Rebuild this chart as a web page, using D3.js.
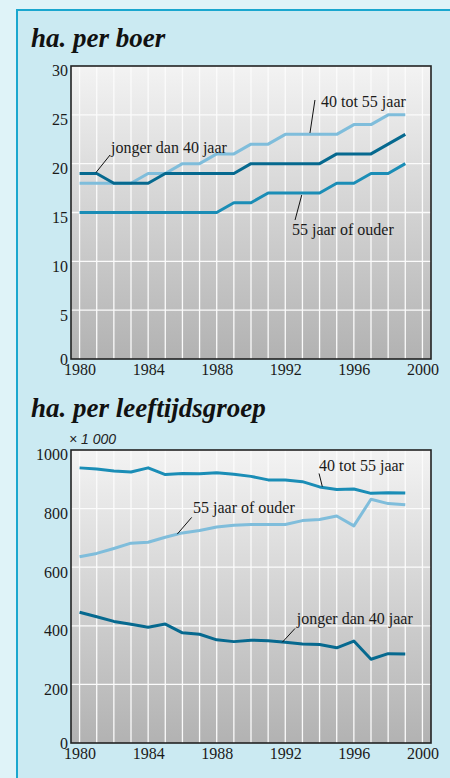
<!DOCTYPE html>
<html>
<head>
<meta charset="utf-8">
<script src="https://cdn.jsdelivr.net/npm/d3@7"></script>
<style>
  html, body { margin: 0; padding: 0; background: #dff3f8; }
  svg text { font-family: "Liberation Serif", "DejaVu Serif", serif; }
  svg text.eenheid { font-family: "Liberation Sans", "DejaVu Sans", sans-serif; }
</style>
</head>
<body>
<div id="grafiek"></div>
<script>
// jaren
const jaren = d3.range(1980, 2000);
const jaarTicks = [1980, 1984, 1988, 1992, 1996, 2000];

// ha. per boer
const boerJonger = [19, 19, 18, 18, 18, 19, 19, 19, 19, 19, 20, 20, 20, 20, 20, 21, 21, 21, 22, 23];
const boerMidden = [18, 18, 18, 18, 19, 19, 20, 20, 21, 21, 22, 22, 23, 23, 23, 23, 24, 24, 25, 25];
const boerOuder = [15, 15, 15, 15, 15, 15, 15, 15, 15, 16, 16, 17, 17, 17, 17, 18, 18, 19, 19, 20];
const boerTicks = [0, 5, 10, 15, 20, 25, 30];

// ha. per leeftijdsgroep (x 1000)
const groepJonger = [446, 431, 415, 405, 395, 406, 376, 371, 352, 346, 351, 349, 344, 338, 336, 325, 348, 286, 305, 304];
const groepMidden = [939, 935, 928, 925, 939, 916, 920, 919, 922, 917, 910, 898, 898, 892, 874, 865, 867, 852, 854, 853];
const groepOuder = [636, 647, 664, 682, 685, 702, 717, 725, 737, 743, 746, 746, 746, 759, 763, 775, 741, 832, 817, 813];
const groepTicks = [0, 200, 400, 600, 800, 1000];

const donker = "#06698f";
const middel = "#1a8db6";
const licht = "#7fbddb";

const width = 450;
const height = 778;

const svg = d3
  .select("#grafiek")
  .append("svg")
  .attr("width", width)
  .attr("height", height)
  .style("display", "block");

const defs = svg.append("defs");
const grad = defs
  .append("linearGradient")
  .attr("id", "vlak")
  .attr("x1", 0)
  .attr("y1", 0)
  .attr("x2", 0)
  .attr("y2", 1);
grad.append("stop").attr("offset", "0%").attr("stop-color", "#f3f3f3");
grad.append("stop").attr("offset", "100%").attr("stop-color", "#b2b2b2");

// achtergrond
svg.append("rect").attr("width", width).attr("height", height).attr("fill", "#dff3f8");
svg
  .append("rect")
  .attr("x", 17)
  .attr("y", 10)
  .attr("width", 460)
  .attr("height", 800)
  .attr("fill", "#cbeaf2")
  .attr("stroke", "#1aa7cf")
  .attr("stroke-width", 2);

const x = d3.scaleLinear().domain([1979.5, 2000.5]).range([71, 431]);

function grafiek(opts) {
  const y = d3.scaleLinear().domain(opts.domein).range([opts.onder, opts.boven]);
  const g = svg.append("g");

  // titel
  g.append("text")
    .attr("x", 31)
    .attr("y", opts.titelY)
    .text(opts.titel)
    .style("font-weight", "bold")
    .style("font-style", "italic")
    .style("font-size", "27px")
    .attr("fill", "#111");

  // plotvlak
  g.append("rect")
    .attr("x", x.range()[0])
    .attr("y", opts.boven)
    .attr("width", x.range()[1] - x.range()[0])
    .attr("height", opts.onder - opts.boven)
    .attr("fill", "url(#vlak)");

  // rasterlijnen
  g.append("g")
    .selectAll("line")
    .data(d3.range(1980, 2001))
    .join("line")
    .attr("x1", (d) => x(d))
    .attr("x2", (d) => x(d))
    .attr("y1", opts.boven)
    .attr("y2", opts.onder)
    .attr("stroke", "#fbfbfb")
    .attr("stroke-width", 1.3);
  g.append("g")
    .selectAll("line")
    .data(opts.ticks.slice(1, -1))
    .join("line")
    .attr("x1", x.range()[0])
    .attr("x2", x.range()[1])
    .attr("y1", (d) => y(d))
    .attr("y2", (d) => y(d))
    .attr("stroke", "#fbfbfb")
    .attr("stroke-width", 1.3);

  // lijnen
  const lijn = d3
    .line()
    .x((d, i) => x(jaren[i]))
    .y((d) => y(d));
  opts.reeksen.forEach((r) => {
    g.append("path")
      .datum(r.waarden)
      .attr("d", lijn)
      .attr("fill", "none")
      .attr("stroke", r.kleur)
      .attr("stroke-width", 3)
      .attr("stroke-linejoin", "round");
  });

  // kader
  g.append("rect")
    .attr("x", x.range()[0])
    .attr("y", opts.boven)
    .attr("width", x.range()[1] - x.range()[0])
    .attr("height", opts.onder - opts.boven)
    .attr("fill", "none")
    .attr("stroke", "#222")
    .attr("stroke-width", 1.6);

  // assen
  const yAs = g
    .append("g")
    .attr("transform", `translate(${x.range()[0]},0)`)
    .call(d3.axisLeft(y).tickValues(opts.ticks).tickSize(0).tickPadding(3).tickFormat(d3.format("d")));
  yAs.select(".domain").remove();
  yAs.attr("font-family", null);
  yAs
    .selectAll("text")
    .attr("dy", (d) => (d === 0 ? "0.32em" : "0.62em"))
    .style("font-size", "16px")
    .attr("fill", "#1a1a1a");

  const xAs = g
    .append("g")
    .attr("transform", `translate(0,${opts.onder})`)
    .call(d3.axisBottom(x).tickValues(jaarTicks).tickSize(0).tickPadding(4.5).tickFormat(d3.format("d")));
  xAs.select(".domain").remove();
  xAs.attr("font-family", null);
  xAs
    .selectAll("text")
    .style("font-size", "16px")
    .attr("fill", "#1a1a1a");

  // labels met verwijslijntjes
  opts.labels.forEach((l) => {
    g.append("line")
      .attr("x1", x(l.lijn[0]))
      .attr("y1", y(l.lijn[1]))
      .attr("x2", x(l.lijn[2]))
      .attr("y2", y(l.lijn[3]))
      .attr("stroke", "#111")
      .attr("stroke-width", 1);
    g.append("text")
      .attr("x", x(l.jaar))
      .attr("y", y(l.waarde))
      .text(l.tekst)
      .style("font-size", "16px")
      .attr("fill", "#1a1a1a");
  });

  if (opts.eenheid) {
    g.append("text")
      .attr("class", "eenheid")
      .attr("x", 69)
      .attr("y", opts.boven - 6)
      .text(opts.eenheid)
      .style("font-style", "italic")
      .style("font-size", "14px")
      .attr("fill", "#222");
  }
}

grafiek({
  titel: "ha. per boer",
  titelY: 47,
  boven: 66,
  onder: 359,
  domein: [0, 30],
  ticks: boerTicks,
  reeksen: [
    { waarden: boerOuder, kleur: middel },
    { waarden: boerMidden, kleur: licht },
    { waarden: boerJonger, kleur: donker },
  ],
  labels: [
    { tekst: "40 tot 55 jaar", jaar: 1994.08, waarde: 25.8, lijn: [1993.73, 26.52, 1993.44, 23.14] },
    { tekst: "jonger dan 40 jaar", jaar: 1981.83, waarde: 21.09, lijn: [1981.78, 20.89, 1980.96, 19.1] },
    { tekst: "55 jaar of ouder", jaar: 1992.39, waarde: 12.7, lijn: [1992.96, 16.79, 1992.57, 14.23] },
  ],
});

grafiek({
  titel: "ha. per leeftijdsgroep",
  titelY: 417,
  boven: 450,
  onder: 743,
  domein: [0, 1000],
  ticks: groepTicks,
  eenheid: "× 1 000",
  reeksen: [
    { waarden: groepOuder, kleur: licht },
    { waarden: groepMidden, kleur: middel },
    { waarden: groepJonger, kleur: donker },
  ],
  labels: [
    { tekst: "40 tot 55 jaar", jaar: 1993.97, waarde: 929, lijn: [1993.97, 920, 1994.16, 875] },
    { tekst: "55 jaar of ouder", jaar: 1986.62, waarde: 785, lijn: [1986.54, 770, 1985.7, 713] },
    { tekst: "jonger dan 40 jaar", jaar: 1992.67, waarde: 405, lijn: [1992.57, 391, 1991.83, 344] },
  ],
});
</script>
</body>
</html>
